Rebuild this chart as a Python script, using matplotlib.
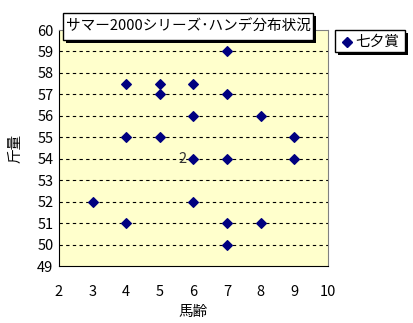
import matplotlib
matplotlib.use("Agg")
import matplotlib.pyplot as plt

plt.rcParams['font.family'] = ['Noto Sans CJK JP', 'DejaVu Sans']

# data
age = [7, 4, 5, 6, 5, 7, 6, 8, 4, 5, 9, 6, 7, 9, 3, 6, 4, 7, 8, 7]
weight = [59, 57.5, 57.5, 57.5, 57, 57, 56, 56, 55, 55, 55, 54, 54, 54, 52, 52, 51, 51, 51, 50]
title = "サマー2000シリーズ･ハンデ分布状況"
series_name = "七夕賞"
x_ticks = [2, 3, 4, 5, 6, 7, 8, 9, 10]
y_ticks = list(range(49, 61))

fs = 10.5

fig = plt.figure(figsize=(4.14, 3.23), dpi=100)
ax = fig.add_axes([59/414, 1 - 266/323, (328-59)/414, (266-30)/323])
ax.set_facecolor('#ffffcc')

ax.scatter(age, weight, marker='D', s=24, color='#000080', zorder=3, label=series_name)
for y in range(50, 60):
    ax.axhline(y, color='black', lw=0.8, ls=(0, (3, 3)), zorder=1)

ax.set_xlim(2, 10)
ax.set_ylim(49, 60)
ax.set_xticks(x_ticks)
ax.set_yticks(y_ticks)
ax.tick_params(length=0, labelsize=fs)
ax.tick_params(axis='x', pad=14)
ax.tick_params(axis='y', pad=4)
for s in ['top', 'right']:
    ax.spines[s].set_color('#808080')
for s in ['left', 'bottom']:
    ax.spines[s].set_color('black')
ax.set_xlabel("馬齢", fontsize=fs, labelpad=4)
ax.set_ylabel("斤量", fontsize=fs)
ax.yaxis.set_label_coords(-0.135, 0.5)

ax.text(5.8, 54, "2", fontsize=fs, ha='right', va='center', color='#333333', zorder=4)

# title box with shadow
fig.patches.append(plt.Rectangle((66/414, 1 - 43/323), 250/414, 27/323, transform=fig.transFigure,
                                 facecolor='black', edgecolor='none', zorder=5))
fig.patches.append(plt.Rectangle((63/414, 1 - 40/323), 250/414, 27/323, transform=fig.transFigure,
                                 facecolor='white', edgecolor='black', lw=1, zorder=6))
fig.text(188/414, 1 - 27/323, title, fontsize=fs, ha='center', va='center', zorder=7)

# legend box with shadow
fig.patches.append(plt.Rectangle((338/414, 1 - 55/323), 70/414, 22/323, transform=fig.transFigure,
                                 facecolor='black', edgecolor='none', zorder=5))
fig.patches.append(plt.Rectangle((335/414, 1 - 52/323), 70/414, 22/323, transform=fig.transFigure,
                                 facecolor='white', edgecolor='black', lw=1, zorder=6))
fig.lines.append(plt.Line2D([347/414], [1 - 42/323], transform=fig.transFigure, marker='D',
                            markersize=5, color='#000080', zorder=7))
fig.text(355/414, 1 - 42/323, series_name, fontsize=fs, ha='left', va='center', zorder=7)

fig.savefig("out.png", dpi=100)
